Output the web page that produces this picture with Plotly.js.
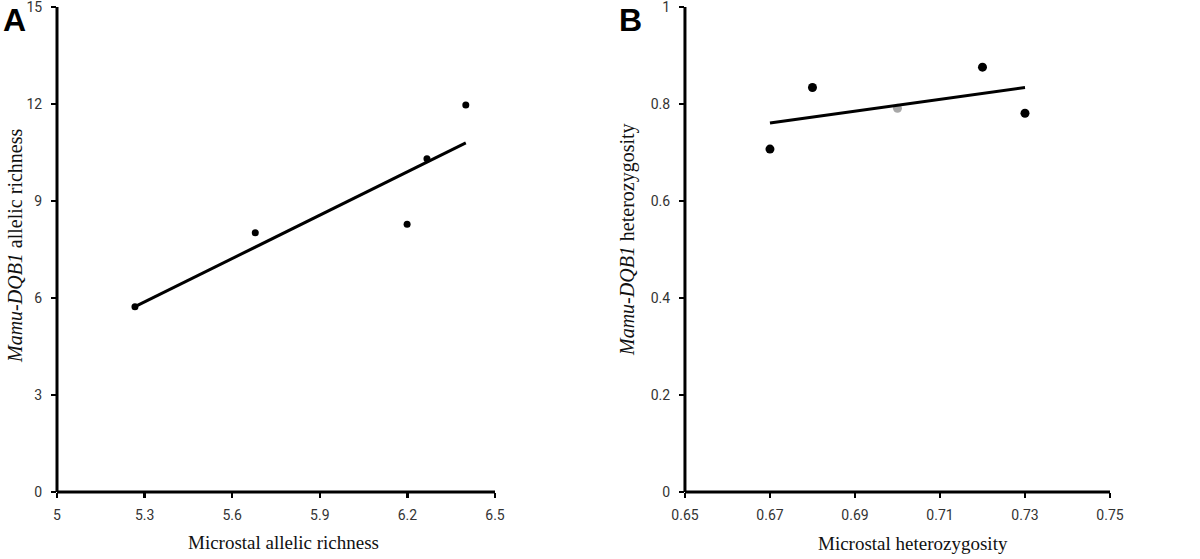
<!DOCTYPE html>
<html>
<head>
<meta charset="utf-8">
<script src="https://cdn.plot.ly/plotly-3.0.1.min.js"></script>
<style>html,body{margin:0;padding:0;background:#fff;}#chart{width:1200px;height:559px;}</style>
</head>
<body>
<div id="chart"></div>
<script>
// Panel A: allelic richness
const richX = [5.267, 5.679, 6.199, 6.267, 6.40];
const richY = [5.73, 8.02, 8.28, 10.31, 11.97];
const richTrendX = [5.267, 6.40];
const richTrendY = [5.73, 10.80];
const richXTicks = [5, 5.3, 5.6, 5.9, 6.2, 6.5];
const richXTickText = ['5', '5.3', '5.6', '5.9', '6.2', '6.5'];
const richYTicks = [0, 3, 6, 9, 12, 15];

// Panel B: heterozygosity
const hetX = [0.67, 0.68, 0.70, 0.72, 0.73];
const hetY = [0.707, 0.834, 0.791, 0.876, 0.781];
const hetTrendX = [0.67, 0.73];
const hetTrendY = [0.761, 0.834];
const hetXTicks = [0.65, 0.67, 0.69, 0.71, 0.73, 0.75];
const hetXTickText = ['0.65', '0.67', '0.69', '0.71', '0.73', '0.75'];
const hetYTicks = [0, 0.2, 0.4, 0.6, 0.8, 1];
const hetYTickText = ['0', '0.2', '0.4', '0.6', '0.8', '1'];

const tickFont = {family: 'Liberation Sans Narrow, Roboto, sans-serif', size: 14, color: '#333'};
const xTitleFont = {family: 'Liberation Serif, Times New Roman, serif', size: 19, color: '#111'};
const yTitleFont = {family: 'Liberation Serif, Times New Roman, serif', size: 20, color: '#111'};

const hetColors = hetX.map((v, i) => i === 2 ? '#a8a8a8' : '#000');

const traces = [
  {x: richX, y: richY, type: 'scatter', mode: 'markers', xaxis: 'x', yaxis: 'y',
   marker: {color: '#000', size: 7}, cliponaxis: false},
  {x: richTrendX, y: richTrendY, type: 'scatter', mode: 'lines', xaxis: 'x', yaxis: 'y',
   line: {color: '#000', width: 3}},
  {x: hetX, y: hetY, type: 'scatter', mode: 'markers', xaxis: 'x2', yaxis: 'y2',
   marker: {color: hetColors, size: 9}, cliponaxis: false},
  {x: hetTrendX, y: hetTrendY, type: 'scatter', mode: 'lines', xaxis: 'x2', yaxis: 'y2',
   line: {color: '#000', width: 3}}
];

const axBase = {
  showline: false,
  ticks: 'outside', ticklen: 5, tickwidth: 2.5, tickcolor: '#000',
  showgrid: false, zeroline: false, tickfont: tickFont, fixedrange: true,
  ticklabeloverflow: 'allow'
};

// axis lines drawn as shapes on the axis domains
const axisLine = (xref, yref, x0, y0, x1, y1) => ({type: 'line', xref: xref, yref: yref,
  x0: x0, y0: y0, x1: x1, y1: y1, line: {color: '#000', width: 3}, layer: 'above'});

const layout = {
  width: 1200, height: 559,
  margin: {l: 0, r: 0, t: 0, b: 0},
  paper_bgcolor: '#fff', plot_bgcolor: '#fff',
  showlegend: false,
  xaxis: Object.assign({}, axBase, {domain: [0.0475, 0.4125], range: [5, 6.5],
    tickmode: 'array', tickvals: richXTicks, ticktext: richXTickText, anchor: 'y', ticklabelstandoff: 5}),
  yaxis: Object.assign({}, axBase, {domain: [0.1199, 0.9875], range: [0, 15],
    tickmode: 'array', tickvals: richYTicks, ticktext: richYTicks.map(String), anchor: 'x', ticklabelstandoff: 6}),
  xaxis2: Object.assign({}, axBase, {domain: [0.5708, 0.925], range: [0.65, 0.75],
    tickmode: 'array', tickvals: hetXTicks, ticktext: hetXTickText, anchor: 'y2', ticklabelstandoff: 5}),
  yaxis2: Object.assign({}, axBase, {domain: [0.1199, 0.9875], range: [0, 1],
    tickmode: 'array', tickvals: hetYTicks, ticktext: hetYTickText, anchor: 'x2', ticklabelstandoff: 6}),
  shapes: [
    axisLine('x domain', 'y domain', 0, 0, 1, 0),
    axisLine('x domain', 'y domain', 0, 0, 0, 1),
    axisLine('x2 domain', 'y2 domain', 0, 0, 1, 0),
    axisLine('x2 domain', 'y2 domain', 0, 0, 0, 1)
  ],
  annotations: [
    {text: '<b>A</b>', xref: 'paper', yref: 'paper', x: 1/1200, y: 1 - 0/559, xanchor: 'left', yanchor: 'top',
     showarrow: false, font: {family: 'Liberation Sans, Arial, sans-serif', size: 32, color: '#000'}},
    {text: '<b>B</b>', xref: 'paper', yref: 'paper', x: 617/1200, y: 1 - 0/559, xanchor: 'left', yanchor: 'top',
     showarrow: false, font: {family: 'Liberation Sans, Arial, sans-serif', size: 32, color: '#000'}},
    {text: 'Microstal allelic richness', xref: 'paper', yref: 'paper', x: 283/1200, y: 1 - 542/559,
     xanchor: 'center', yanchor: 'middle', showarrow: false, font: xTitleFont},
    {text: 'Microstal heterozygosity', xref: 'paper', yref: 'paper', x: 913/1200, y: 1 - 543/559,
     xanchor: 'center', yanchor: 'middle', showarrow: false, font: xTitleFont},
    {text: '<i>Mamu-DQB1</i> allelic richness', xref: 'paper', yref: 'paper', x: 15/1200, y: 1 - 246/559,
     xanchor: 'center', yanchor: 'middle', textangle: -90, showarrow: false, font: yTitleFont},
    {text: '<i>Mamu-DQB1</i> heterozygosity', xref: 'paper', yref: 'paper', x: 628/1200, y: 1 - 240/559,
     xanchor: 'center', yanchor: 'middle', textangle: -90, showarrow: false, font: yTitleFont}
  ]
};

Plotly.newPlot('chart', traces, layout, {displayModeBar: false, staticPlot: true});
</script>
</body>
</html>
